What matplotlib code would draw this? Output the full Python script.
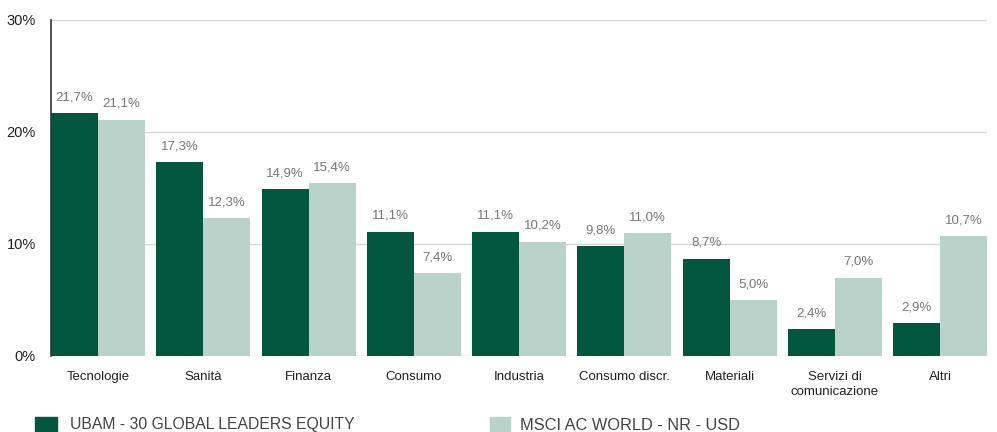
import matplotlib as mpl
mpl.use('Agg')
from matplotlib import pyplot as plt
import matplotlib.patches as patches
import numpy as np

categories = ['Tecnologie', 'Sanità', 'Finanza', 'Consumo', 'Industria',
              'Consumo discr.', 'Materiali', 'Servizi di\ncomunicazione', 'Altri']
ubam = [21.7, 17.3, 14.9, 11.1, 11.1, 9.8, 8.7, 2.4, 2.9]
msci = [21.1, 12.3, 15.4, 7.4, 10.2, 11.0, 5.0, 7.0, 10.7]
yticks = [0, 10, 20, 30]
series_names = ['UBAM - 30 GLOBAL LEADERS EQUITY', 'MSCI AC WORLD - NR - USD']

dark = '#04573f'
light = '#b9d3ca'

plt.rcParams['font.family'] = ['Liberation Sans', 'DejaVu Sans']

fig = plt.figure(figsize=(9.97, 4.32), dpi=100)
ax = fig.add_axes([0.0512, 0.176, 0.9388, 0.778])

x = np.arange(len(categories))
w = 0.4466
b1 = ax.bar(x - w/2, ubam, width=w, color=dark, zorder=2)
b2 = ax.bar(x + w/2, msci, width=w, color=light, zorder=2)

def fmt(v):
    return ('%.1f%%' % v).replace('.', ',')

for bars, vals in [(b1, ubam), (b2, msci)]:
    for r, v in zip(bars, vals):
        ax.annotate(fmt(v), (r.get_x() + r.get_width()/2, v), xytext=(0, 7),
                    textcoords='offset points', ha='center', va='bottom',
                    fontsize=9.5, color='#777777')

ax.set_xlim(-w, len(categories) - 1 + w)
ax.set_ylim(0, 30)
ax.set_yticks(yticks)
ax.set_yticklabels(['%d%%' % t for t in yticks])
ax.set_xticks(x)
ax.set_xticklabels(categories, fontsize=9.5, color='#222222', linespacing=1.3)
ax.tick_params(axis='y', length=0, pad=11, labelsize=10.5, labelcolor='#222222')
ax.tick_params(axis='x', length=0, pad=11)
for t in yticks:
    ax.axhline(t, color='#d6d6d6', linewidth=1, zorder=1)

for s in ['top', 'right', 'bottom']:
    ax.spines[s].set_visible(False)
ax.spines['left'].set_color('#333333')
ax.spines['left'].set_linewidth(1.2)
ax.spines['left'].set_zorder(3)

# legend drawn in figure coords
fig.patches.append(patches.Rectangle((35/997, 0), 22/997, 15/432, color=dark,
                                     transform=fig.transFigure, figure=fig))
fig.text(70/997, 7/432, series_names[0], fontsize=11.3, color='#444444', va='center')
fig.patches.append(patches.Rectangle((490/997, 0), 20/997, 15/432, color=light,
                                     transform=fig.transFigure, figure=fig))
fig.text(520/997, 7/432, series_names[1], fontsize=11.8, color='#444444', va='center')

plt.savefig('out.png', dpi=100)
plt.close()
